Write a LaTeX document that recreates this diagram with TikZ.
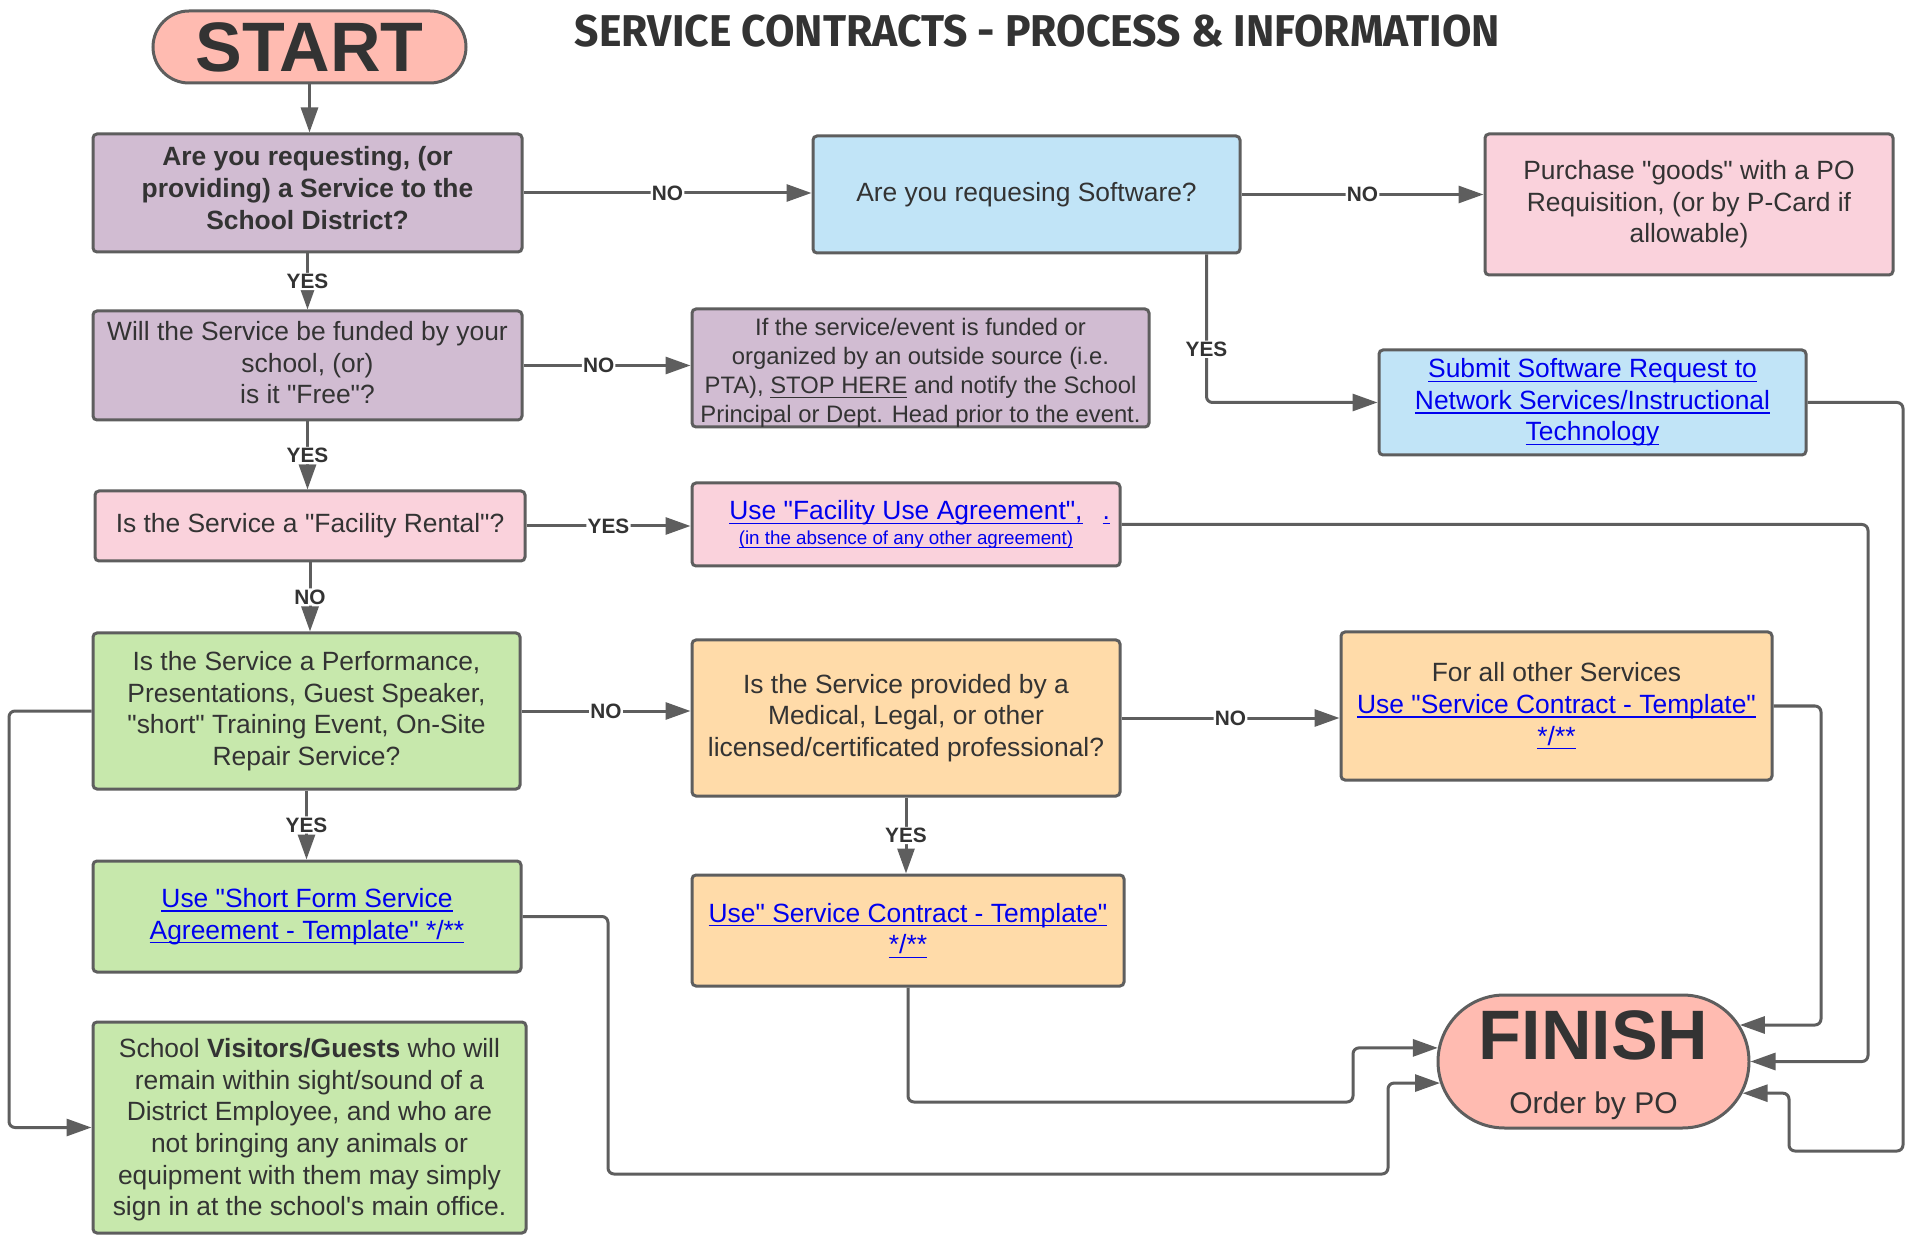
\documentclass[tikz,border=0pt]{standalone}
\usepackage{fontspec}
\newfontfamily\arial{Liberation Sans}
\setmainfont{Liberation Sans}
\newfontfamily\titlefont{Fira Sans}
\usepackage{graphicx}
\usepackage{tikz}
\usetikzlibrary{arrows.meta,shapes.misc}

\definecolor{ink}{HTML}{333333}
\definecolor{edge}{HTML}{5E5E5E}
\definecolor{linkblue}{HTML}{0000EE}
\definecolor{salmon}{HTML}{FFBBB1}
\definecolor{lilac}{HTML}{D1BCD2}
\definecolor{skyblue}{HTML}{C1E4F7}
\definecolor{rose}{HTML}{FAD2DC}
\definecolor{leaf}{HTML}{C7E8AC}
\definecolor{peach}{HTML}{FFDBA9}

\newcommand{\body}{\arial\fontsize{13.2pt}{15.8pt}\selectfont}
\newsavebox{\ulbox}
\newcommand{\undl}[1]{\leavevmode\sbox{\ulbox}{#1}\rlap{\rule[-2.1pt]{\wd\ulbox}{0.7pt}}\usebox{\ulbox}}
\newcommand{\lnk}[1]{\textcolor{linkblue}{\undl{#1}}}

\begin{document}
\begin{tikzpicture}[x=0.5pt,y=-0.5pt,
  every node/.style={text=ink},
  box/.style={rectangle,draw=edge,line width=1.5pt,rounded corners=2pt,align=center,inner sep=2pt,font=\body},
  stadium/.style={rounded rectangle,draw=edge,line width=1.5pt,fill=salmon,inner sep=0pt,align=center,
    font=\arial\fontsize{35pt}{27pt}\selectfont\bfseries},
  conn/.style={draw=edge,line width=1.5pt,rounded corners=3pt,-{Triangle[length=12.5pt,width=8.5pt]}},
  lbl/.style={fill=white,inner sep=0.6pt,font=\arial\fontsize{10.4pt}{12pt}\selectfont\bfseries}]
\useasboundingbox (0,0) rectangle (1908,1235);

\node[stadium,minimum width=156.5pt,minimum height=36pt] (start) at (309.5,47) {\makebox[0pt]{START}};
\node (title) at (1037.5,31) {\resizebox{462.5pt}{15.8pt}{\titlefont\bfseries SERVICE CONTRACTS - PROCESS \& INFORMATION}};

\node[box,fill=lilac,minimum width=214.5pt,minimum height=59pt,font=\body\bfseries] (q-service) at (307.5,193)
  {Are you requesting, (or\\providing) a Service to the\\School District?\rule[-5pt]{0pt}{5pt}};
\node[box,fill=skyblue,minimum width=213.5pt,minimum height=58.5pt] (q-software) at (1026.5,194.5)
  {Are you requesing Software?};
\node[box,fill=rose,minimum width=204pt,minimum height=70.5pt] (goods) at (1689,204.5)
  {Purchase "goods" with a PO\\Requisition, (or by P-Card if\\allowable)};
\node[box,fill=lilac,minimum width=214.5pt,minimum height=54.5pt] (q-funded) at (307.5,365.5)
  {Will the Service be funded by your\\school, (or)\\is it "Free"?\rule[-3pt]{0pt}{3pt}};
\node[box,fill=lilac,minimum width=228.5pt,minimum height=59pt,inner ysep=1pt,font=\arial\fontsize{11.9pt}{14.6pt}\selectfont] (stop-here) at (920.5,368)
  {\rule{0pt}{11.2pt}If the service/event is funded or\\organized by an outside source (i.e.\\PTA), \undl{STOP HERE} and notify the School\\\raisebox{0pt}[\height][0pt]{Principal or Dept. Head prior to the event.}};
\node[box,fill=skyblue,minimum width=213.5pt,minimum height=52.5pt] (software-req) at (1592.5,402.5)
  {\lnk{Submit Software Request to}\\\lnk{Network Services/Instructional}\\\lnk{Technology}};
\node[box,fill=rose,minimum width=215pt,minimum height=35pt] (q-rental) at (310,526)
  {Is the Service a "Facility Rental"?};
\node[box,fill=rose,minimum width=214pt,minimum height=41.5pt] (facility) at (906,524.5)
  {\lnk{Use "Facility Use Agreement",}\rlap{\hspace{10pt}\lnk{.}}\\[-3.6pt]
   {\fontsize{9.4pt}{11pt}\selectfont\lnk{(in the absence of any other agreement)}}};
\node[box,fill=leaf,minimum width=213.5pt,minimum height=78pt] (q-perform) at (306.5,711)
  {Is the Service a Performance,\\Presentations, Guest Speaker,\\"short" Training Event, On-Site\\Repair Service?};
\node[box,fill=peach,minimum width=214pt,minimum height=78pt] (q-licensed) at (906,718)
  {Is the Service provided by a\\Medical, Legal, or other\\licensed/certificated professional?};
\node[box,fill=peach,minimum width=215.5pt,minimum height=74pt] (other) at (1556.5,706)
  {For all other Services\\\lnk{Use "Service Contract - Template"}\\\lnk{*/**}};
\node[box,fill=leaf,minimum width=214pt,minimum height=55.5pt] (short-form) at (307,916.5)
  {\lnk{Use "Short Form Service}\\\lnk{Agreement - Template" */**}};
\node[box,fill=peach,minimum width=216pt,minimum height=55.5pt] (contract) at (908,930.5)
  {\lnk{Use" Service Contract - Template"}\\\lnk{*/**}};
\node[box,fill=leaf,minimum width=216.5pt,minimum height=105.5pt] (visitors) at (309.5,1127.5)
  {\rule{0pt}{12pt}School \textbf{Visitors/Guests} who will\\remain within sight/sound of a\\District Employee, and who are\\not bringing any animals or\\equipment with them may simply\\sign in at the school's main office.};
\node[stadium,minimum width=155.5pt,minimum height=66.5pt] (finish) at (1593.5,1061.5)
  {\rule{0pt}{28pt}\makebox[0pt]{FINISH}\\\makebox[0pt]{\fontsize{15pt}{18pt}\selectfont\mdseries Order by PO}};

\draw[conn] (start) -- (start |- q-service.north);
\draw[conn] (q-service) -- node[lbl]{NO} (q-service -| q-software.west);
\draw[conn] (q-software) -- node[lbl]{NO} (q-software -| goods.west);
\draw[conn] (q-service) -- node[lbl]{YES} (q-service |- q-funded.north);
\draw[conn] (q-funded) -- node[lbl,pos=.45]{NO} (q-funded -| stop-here.west);
\draw[conn] (q-funded) -- node[lbl]{YES} (q-funded |- q-rental.north);
\draw[conn] (q-rental) -- node[lbl]{YES} (q-rental -| facility.west);
\draw[conn] (q-rental) -- node[lbl]{NO} (q-rental |- q-perform.north);
\draw[conn] (q-perform) -- node[lbl]{NO} (q-perform -| q-licensed.west);
\draw[conn] (q-perform) -- node[lbl]{YES} (q-perform |- short-form.north);
\draw[conn] (q-licensed) -- node[lbl]{NO} (q-licensed -| other.west);
\draw[conn] (q-licensed) -- node[lbl]{YES} (q-licensed |- contract.north);
\draw[conn] ([xshift=-17.5pt]q-software.south east) |- node[lbl,pos=.32]{YES} (software-req);

\draw[conn] (other) -| (1821,0 |- finish.14) -- (finish.14);
\draw[conn] (facility) -| (1868,0 |- finish.east) -- (finish.east);
\draw[conn] (software-req) -| (1903,1151) -| (1789,0 |- finish.-12) -- (finish.-12);
\draw[conn] (contract) |- (1353,1102) -- (1353,0 |- finish.175) -- (finish.175);
\draw[conn] (short-form) -| (608,1174) -| (1388,0 |- finish.188) -- (finish.188);
\draw[conn] (q-perform) -| (9,0 |- visitors) -- (visitors);
\end{tikzpicture}
\end{document}
